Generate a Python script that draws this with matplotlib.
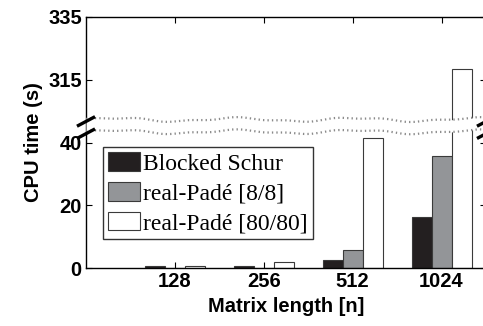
import numpy as np
import matplotlib
matplotlib.use("Agg")
import matplotlib.pyplot as plt

# ---- data ----
categories = ["128", "256", "512", "1024"]
series_names = ["Blocked Schur", "real-Padé [8/8]", "real-Padé [80/80]"]
blocked_schur = [0.5, 0.6, 2.7, 16.1]
pade_8 = [0.1, 0.15, 5.8, 35.6]
pade_80 = [0.7, 1.8, 41.5, 318.5]
ytick_values = [0, 20, 40, 315, 335]

# broken axis: values above the break are shifted down
BREAK_LOW, BREAK_SHIFT = 45.0, 255.0
def to_disp(v):
    v = np.asarray(v, dtype=float)
    return np.where(v > BREAK_LOW, v - BREAK_SHIFT, v)

fig = plt.figure(figsize=(4.83, 3.26), dpi=100)
ax = fig.add_axes([86/483, 58/326, 400/483, 251/326])

x = np.arange(1, len(categories) + 1)
w = 0.225
colors = ["#231f20", "#939598", "#ffffff"]
edge = "#3a3a3a"
for i, (vals, name, c) in enumerate(zip([blocked_schur, pade_8, pade_80], series_names, colors)):
    ax.bar(x + (i - 1) * w, to_disp(vals), width=w, color=c, edgecolor=edge,
           linewidth=0.8, label=name, zorder=2)

ax.set_xlim(0, 4.5)
ax.set_ylim(0, 80)
ax.set_xticks(x)
ax.set_xticklabels(categories)
ax.set_yticks(to_disp(ytick_values))
ax.set_yticklabels([str(v) for v in ytick_values])

fp = dict(family="Liberation Sans", weight="bold", size=14.5)
for lab in ax.get_xticklabels() + ax.get_yticklabels():
    lab.set_fontproperties(matplotlib.font_manager.FontProperties(**fp))
ax.tick_params(direction="in", length=4, width=0.8, top=True, right=True, pad=3)
ax.set_xlabel("Matrix length [n]", fontdict=fp, labelpad=4)
ax.set_ylabel("CPU time (s)", fontdict=fp, labelpad=4)
for s in ax.spines.values():
    s.set_linewidth(1.0)

# break band
xs = np.linspace(0, 4.5, 400)
wave = 0.55 * np.sin(2 * np.pi * xs / 1.35) + 0.25 * np.sin(2 * np.pi * xs / 0.55 + 1.0)
upper = 47.3 + wave
lower = 43.4 + wave
ax.fill_between(xs, lower, upper, color="white", zorder=3, linewidth=0)
ax.plot(xs, upper, color="#8a8a8a", lw=1.6, ls=(0, (0.6, 1.4)), zorder=4)
ax.plot(xs, lower, color="#8a8a8a", lw=1.6, ls=(0, (0.6, 1.4)), zorder=4)

# break marks on spines
dx = 9 / 88.7
dy = 4.8 / 3.15
for xb in (0, 4.5):
    for yc in (upper[0] - 0.8, lower[0] - 0.8):
        ax.plot([xb - dx, xb + dx], [yc - dy, yc + dy], color="black", lw=2.4,
                clip_on=False, zorder=5, solid_capstyle="butt")

leg = ax.legend(loc="upper left", bbox_to_anchor=(103/483, (326-147)/326),
                bbox_transform=fig.transFigure,
                prop=dict(family="Liberation Serif", size=17),
                frameon=True, fancybox=False, edgecolor="black",
                handlelength=1.35, handleheight=0.85, handletextpad=0.12,
                borderpad=0.22, labelspacing=0.3, borderaxespad=0)
leg.get_frame().set_linewidth(1.0)
leg.set_zorder(6)

fig.savefig("out.png", dpi=100)
